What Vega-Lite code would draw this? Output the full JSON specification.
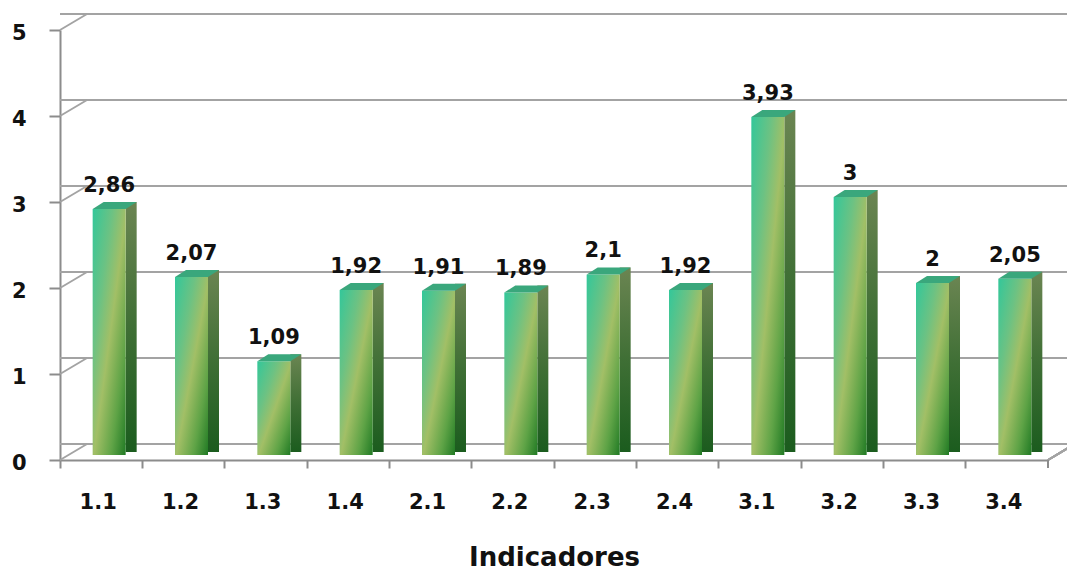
{
  "$schema": "https://vega.github.io/schema/vega-lite/v6.json",
  "width": 988,
  "height": 430,
  "autosize": {"type": "none"},
  "padding": {"left": 60, "top": 30, "right": 19, "bottom": 112},
  "background": "white",
  "config": {
    "view": {"stroke": null},
    "locale": {
      "number": {"decimal": ",", "thousands": ".", "grouping": [3], "currency": ["", ""]}
    },
    "font": "DejaVu Sans"
  },
  "datasets": {
    "indicadores": [
      {"indicador": "1.1", "valor": 2.86},
      {"indicador": "1.2", "valor": 2.07},
      {"indicador": "1.3", "valor": 1.09},
      {"indicador": "1.4", "valor": 1.92},
      {"indicador": "2.1", "valor": 1.91},
      {"indicador": "2.2", "valor": 1.89},
      {"indicador": "2.3", "valor": 2.1},
      {"indicador": "2.4", "valor": 1.92},
      {"indicador": "3.1", "valor": 3.93},
      {"indicador": "3.2", "valor": 3},
      {"indicador": "3.3", "valor": 2},
      {"indicador": "3.4", "valor": 2.05}
    ],
    "niveis": [
      {"nivel": 0}, {"nivel": 1}, {"nivel": 2}, {"nivel": 3}, {"nivel": 4}, {"nivel": 5}
    ]
  },
  "resolve": {"scale": {"x": "independent"}, "axis": {"x": "independent"}},
  "layer": [
    {
      "description": "back wall gridlines and the value axis",
      "data": {"name": "niveis"},
      "mark": {"type": "rule", "color": "#a3a3a3", "strokeWidth": 2, "xOffset": 27, "yOffset": -16},
      "encoding": {
        "y": {
          "field": "nivel",
          "type": "quantitative",
          "scale": {"domain": [0, 5], "nice": false},
          "axis": {
            "title": null,
            "values": [0, 1, 2, 3, 4, 5],
            "format": "d",
            "grid": false,
            "labelFont": "DejaVu Sans",
            "labelFontWeight": "bold",
            "labelFontSize": 21,
            "labelColor": "#111111",
            "labelPadding": 23,
            "labelOffset": 3,
            "tickSize": 11,
            "tickWidth": 2,
            "tickColor": "#8c8c8c",
            "domainColor": "#8c8c8c",
            "domainWidth": 2
          }
        }
      }
    },
    {
      "description": "side wall diagonals and floor corner",
      "data": {"name": "niveis"},
      "layer": [
        {
          "mark": {"type": "rule", "color": "#a3a3a3", "strokeWidth": 2, "x2Offset": 27, "y2Offset": -16},
          "encoding": {
            "x": {"datum": 0, "type": "quantitative", "scale": {"domain": [0, 1]}, "axis": null},
            "x2": {"datum": 0},
            "y": {"field": "nivel", "type": "quantitative"},
            "y2": {"field": "nivel"}
          }
        },
        {
          "mark": {"type": "rule", "color": "#a3a3a3", "strokeWidth": 2, "x2Offset": 20, "y2Offset": -12},
          "encoding": {
            "x": {"datum": 1, "type": "quantitative", "scale": {"domain": [0, 1]}, "axis": null},
            "x2": {"datum": 1},
            "y": {"datum": 0, "type": "quantitative"},
            "y2": {"datum": 0}
          }
        },
        {
          "mark": {"type": "rule", "color": "#8c8c8c", "strokeWidth": 2, "y2Offset": 8},
          "encoding": {
            "x": {"datum": 1, "type": "quantitative", "scale": {"domain": [0, 1]}, "axis": null},
            "y": {"datum": 0, "type": "quantitative"},
            "y2": {"datum": 0}
          }
        }
      ]
    },
    {
      "description": "3D bars: side face, front face, top cap and value label",
      "data": {"name": "indicadores"},
      "encoding": {
        "x": {
          "field": "indicador",
          "type": "nominal",
          "sort": null,
          "scale": {"paddingInner": 0, "paddingOuter": 0},
          "axis": {
            "title": "Indicadores",
            "bandPosition": 0,
            "labelOffset": -3,
            "labelAngle": 0,
            "labelFont": "DejaVu Sans",
            "labelFontWeight": "bold",
            "labelFontSize": 21,
            "labelColor": "#111111",
            "labelPadding": 23,
            "tickSize": 8,
            "tickWidth": 2,
            "tickColor": "#8c8c8c",
            "domainColor": "#8c8c8c",
            "domainWidth": 2,
            "titleFont": "DejaVu Sans",
            "titleFontWeight": "bold",
            "titleFontSize": 26,
            "titleColor": "#111111",
            "titlePadding": 32
          }
        },
        "y": {"field": "valor", "type": "quantitative"}
      },
      "layer": [
        {
          "mark": {
            "type": "bar",
            "width": 11,
            "xOffset": 30,
            "yOffset": -12,
            "y2Offset": -8,
            "color": {
              "gradient": "linear",
              "x1": 0, "y1": 0, "x2": 0, "y2": 1,
              "stops": [
                {"offset": 0, "color": "#6b8552"},
                {"offset": 0.5, "color": "#3f6f35"},
                {"offset": 1, "color": "#1b5c1e"}
              ]
            }
          },
          "encoding": {"y2": {"datum": 0}}
        },
        {
          "mark": {
            "type": "bar",
            "width": 33,
            "xOffset": 8,
            "yOffset": -5,
            "y2Offset": -5,
            "color": {
              "gradient": "linear",
              "x1": 0, "y1": 0, "x2": 1, "y2": 1,
              "stops": [
                {"offset": 0, "color": "#33c79a"},
                {"offset": 0.3, "color": "#6cc283"},
                {"offset": 0.52, "color": "#a2bf66"},
                {"offset": 0.78, "color": "#5ea346"},
                {"offset": 1, "color": "#217a24"}
              ]
            }
          },
          "encoding": {"y2": {"datum": 0}}
        },
        {
          "mark": {
            "type": "point",
            "filled": true,
            "opacity": 1,
            "size": 400,
            "strokeWidth": 0,
            "color": "#3aa77c",
            "shape": "M -0.85 -0.5 L 2.45 -0.5 L 3.55 -1.2 L 0.25 -1.2 Z"
          }
        },
        {
          "mark": {
            "type": "text",
            "font": "DejaVu Sans",
            "fontWeight": "bold",
            "fontSize": 21,
            "color": "#111111",
            "baseline": "alphabetic",
            "dx": 8,
            "dy": -22
          },
          "encoding": {"text": {"field": "valor", "type": "quantitative", "format": ".3~g"}}
        }
      ]
    }
  ]
}
